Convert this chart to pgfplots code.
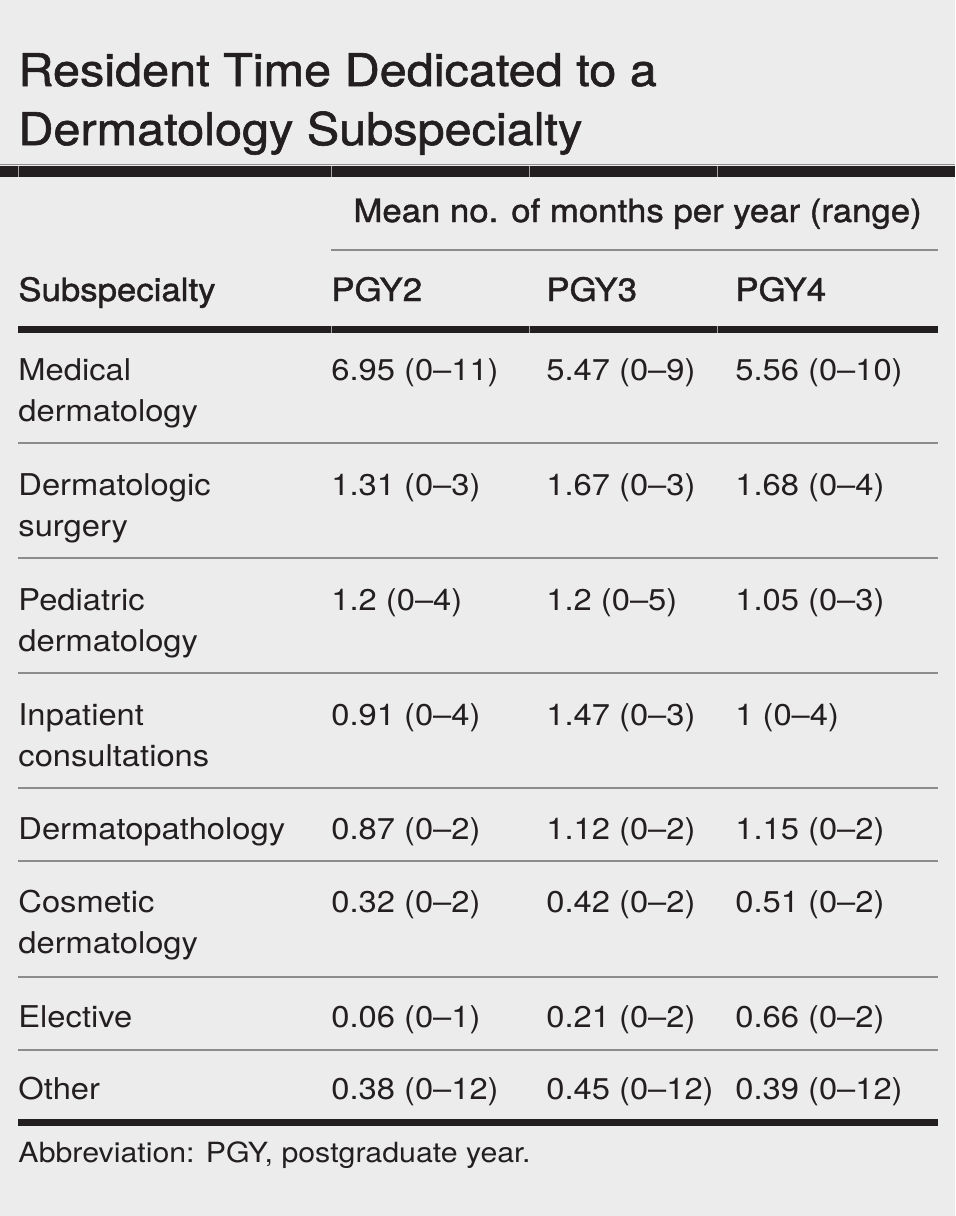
\documentclass[border=0pt]{standalone}
\usepackage{pgfplots}
\pgfplotsset{compat=1.18}
\usepackage{fontspec}
\setmainfont{TeX Gyre Heros}[FakeStretch=1.09]
\newfontfamily\medfont{TeX Gyre Heros}[FakeStretch=1.08, FakeBold=1.3]
\definecolor{bg}{HTML}{ECECEC}
\definecolor{ink}{HTML}{231F20}
\definecolor{rulec}{HTML}{8C8C8C}
\begin{document}
\begin{tikzpicture}[
  body/.style={anchor=base west, inner sep=0pt, text=ink, font=\fontsize{15}{18}\selectfont},
  head/.style={anchor=base west, inner sep=0pt, text=ink, font=\medfont\fontsize{16.1}{18}\selectfont},
  ttl/.style={anchor=base west, inner sep=0pt, text=ink, font=\medfont\fontsize{22.5}{25}\selectfont},
  foot/.style={anchor=base west, inner sep=0pt, text=ink, font=\fontsize{13.9}{16}\selectfont}]
\begin{axis}[scale only axis, width=477.5pt, height=608pt,
  xmin=0, xmax=955, ymin=0, ymax=1216, y dir=reverse, hide axis, clip=false]
\fill[bg] (axis cs:0,0) rectangle (axis cs:955,1216);
% title
\node[ttl] at (axis cs:18,86) {Resident Time Dedicated to a};
\node[ttl] at (axis cs:18,145) {Dermatology Subspecialty};
% top rules
\fill[rulec] (axis cs:0,163.5) rectangle (axis cs:955,165);
\fill[ink] (axis cs:0,166) rectangle (axis cs:955,177);
\pgfplotsinvokeforeach{18,331,529,717}{\draw[gray!70, line width=0.4pt] (axis cs:#1,166) -- (axis cs:#1,177);}
% header
\node[head] at (axis cs:353,222) {Mean no. of months per year (range)};
\fill[rulec] (axis cs:331,249) rectangle (axis cs:938,251);
\node[head] at (axis cs:18,301) {Subspecialty};
\node[head] at (axis cs:331,301) {PGY2};
\node[head] at (axis cs:546,301) {PGY3};
\node[head] at (axis cs:735,301) {PGY4};
\fill[ink] (axis cs:18,326) rectangle (axis cs:938,333);
\pgfplotsinvokeforeach{331,529,717}{\draw[gray!70, line width=0.4pt] (axis cs:#1,326) -- (axis cs:#1,333);}
% row separators
\pgfplotsinvokeforeach{443,558,673,788,861,977,1050}{\draw[rulec, line width=0.8pt] (axis cs:18,#1) -- (axis cs:938,#1);}
\fill[ink] (axis cs:18,1119) rectangle (axis cs:938,1126);
% rows
\node[body] at (axis cs:18,380) {Medical};
\node[body] at (axis cs:18,421) {dermatology};
\node[body] at (axis cs:331,380) {6.95 (0--11)};
\node[body] at (axis cs:546,380) {5.47 (0--9)};
\node[body] at (axis cs:735,380) {5.56 (0--10)};
\node[body] at (axis cs:18,495) {Dermatologic};
\node[body] at (axis cs:18,536) {surgery};
\node[body] at (axis cs:331,495) {1.31 (0--3)};
\node[body] at (axis cs:546,495) {1.67 (0--3)};
\node[body] at (axis cs:735,495) {1.68 (0--4)};
\node[body] at (axis cs:18,610) {Pediatric};
\node[body] at (axis cs:18,651) {dermatology};
\node[body] at (axis cs:331,610) {1.2 (0--4)};
\node[body] at (axis cs:546,610) {1.2 (0--5)};
\node[body] at (axis cs:735,610) {1.05 (0--3)};
\node[body] at (axis cs:18,725) {Inpatient};
\node[body] at (axis cs:18,766) {consultations};
\node[body] at (axis cs:331,725) {0.91 (0--4)};
\node[body] at (axis cs:546,725) {1.47 (0--3)};
\node[body] at (axis cs:735,725) {1 (0--4)};
\node[body] at (axis cs:18,839) {Dermatopathology};
\node[body] at (axis cs:331,839) {0.87 (0--2)};
\node[body] at (axis cs:546,839) {1.12 (0--2)};
\node[body] at (axis cs:735,839) {1.15 (0--2)};
\node[body] at (axis cs:18,912) {Cosmetic};
\node[body] at (axis cs:18,953) {dermatology};
\node[body] at (axis cs:331,912) {0.32 (0--2)};
\node[body] at (axis cs:546,912) {0.42 (0--2)};
\node[body] at (axis cs:735,912) {0.51 (0--2)};
\node[body] at (axis cs:18,1027) {Elective};
\node[body] at (axis cs:331,1027) {0.06 (0--1)};
\node[body] at (axis cs:546,1027) {0.21 (0--2)};
\node[body] at (axis cs:735,1027) {0.66 (0--2)};
\node[body] at (axis cs:18,1099) {Other};
\node[body] at (axis cs:331,1099) {0.38 (0--12)};
\node[body] at (axis cs:546,1099) {0.45 (0--12)};
\node[body] at (axis cs:735,1099) {0.39 (0--12)};
% footnote
\node[foot] at (axis cs:18,1162) {Abbreviation: PGY, postgraduate year.};
\end{axis}
\end{tikzpicture}
\end{document}
